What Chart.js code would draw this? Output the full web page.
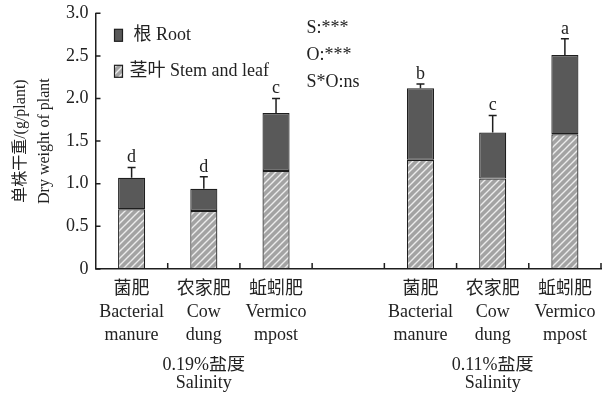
<!DOCTYPE html>
<html>
<head>
<meta charset="utf-8">
<script src="https://cdn.jsdelivr.net/npm/chart.js@4.4.1/dist/chart.umd.min.js"></script>
<style>
  html, body { margin: 0; padding: 0; background: #fff; }
  #wrap { width: 611px; height: 400px; }
</style>
</head>
<body>
<div id="wrap"><canvas id="chart" width="611" height="400"></canvas></div>
<script>
// categories (index 3 is the gap between the two salinity groups)
const categories = [
  ['菌肥', 'Bacterial', 'manure'],
  ['农家肥', 'Cow', 'dung'],
  ['蚯蚓肥', 'Vermico', 'mpost'],
  '',
  ['菌肥', 'Bacterial', 'manure'],
  ['农家肥', 'Cow', 'dung'],
  ['蚯蚓肥', 'Vermico', 'mpost']
];
const groupLabels = ['', ['0.19%盐度', 'Salinity'], '', '', '', ['0.11%盐度', 'Salinity'], ''];

// dry weight, g/plant
const stemLeaf = [0.70, 0.68, 1.15, null, 1.28, 1.06, 1.58];
const totals = [1.07, 0.94, 1.83, null, 2.12, 1.60, 2.51];
const errorTops = [1.19, 1.08, 2.00, null, 2.17, 1.80, 2.70];
const letters = ['d', 'd', 'c', '', 'b', 'c', 'a'];
const root = totals.map((t, i) => t == null ? null : +(t - stemLeaf[i]).toFixed(2));

const yTicks = [0, 0.5, 1.0, 1.5, 2.0, 2.5, 3.0];
const statLines = ['S:***', 'O:***', 'S*O:ns'];

const FONT = '"Liberation Serif", "Noto Sans CJK SC", serif';
const ROOT_COLOR = '#595959';
const EDGE = '#1e1e1e';

function hatch() {
  const c = document.createElement('canvas');
  c.width = 7; c.height = 7;
  const g = c.getContext('2d');
  g.fillStyle = '#a3a3a3';
  g.fillRect(0, 0, 7, 7);
  g.strokeStyle = '#ececec';
  g.lineWidth = 1.4;
  g.beginPath();
  g.moveTo(-1, 8); g.lineTo(8, -1);
  g.moveTo(-1, 1); g.lineTo(1, -1);
  g.moveTo(6, 8); g.lineTo(8, 6);
  g.stroke();
  return g.createPattern(c, 'repeat');
}
const stemFill = hatch();

const extras = {
  id: 'extras',
  afterDraw(chart) {
    const { ctx, chartArea: a, scales: { x, y } } = chart;
    ctx.save();
    ctx.strokeStyle = EDGE;
    ctx.lineWidth = 1.5;
    // inward ticks
    ctx.beginPath();
    yTicks.forEach(v => {
      const py = y.getPixelForValue(v);
      ctx.moveTo(a.left, py); ctx.lineTo(a.left + 5, py);
    });
    for (let i = 0; i < categories.length; i++) {
      const px = (x.getPixelForValue(i) + x.getPixelForValue(i + 1)) / 2;
      ctx.moveTo(px, a.bottom); ctx.lineTo(px, a.bottom - 6);
    }
    ctx.stroke();

    // error bars + letters
    ctx.fillStyle = '#222';
    ctx.font = '18px ' + FONT;
    ctx.textAlign = 'center';
    ctx.textBaseline = 'bottom';
    totals.forEach((t, i) => {
      if (t == null) return;
      const px = x.getPixelForValue(i);
      const top = y.getPixelForValue(errorTops[i]);
      ctx.beginPath();
      ctx.moveTo(px, y.getPixelForValue(t)); ctx.lineTo(px, top);
      ctx.moveTo(px - 4, top); ctx.lineTo(px + 4, top);
      ctx.stroke();
      ctx.fillText(letters[i], px, top - 1);
    });

    // legend
    const lx = a.left + 19;
    ctx.lineWidth = 1.2;
    ctx.fillStyle = ROOT_COLOR;
    ctx.fillRect(lx, a.top + 16, 8, 12);
    ctx.strokeRect(lx, a.top + 16, 8, 12);
    ctx.fillStyle = stemFill;
    ctx.fillRect(lx, a.top + 52, 8, 12);
    ctx.strokeRect(lx, a.top + 52, 8, 12);
    ctx.fillStyle = '#222';
    ctx.textAlign = 'left';
    ctx.textBaseline = 'middle';
    ctx.font = '18px ' + FONT;
    ctx.fillText('根 Root', lx + 19, a.top + 22);
    ctx.fillText('茎叶 Stem and leaf', lx + 15, a.top + 58);

    // significance
    statLines.forEach((s, k) => ctx.fillText(s, a.left + 211, a.top + 15 + k * 27));
    ctx.restore();
  }
};

new Chart(document.getElementById('chart'), {
  type: 'bar',
  data: {
    labels: categories,
    datasets: [
      { label: '茎叶 Stem and leaf', data: stemLeaf, backgroundColor: stemFill, borderColor: EDGE, borderWidth: 1.2, borderSkipped: false },
      { label: '根 Root', data: root, backgroundColor: ROOT_COLOR, borderColor: EDGE, borderWidth: 1.2, borderSkipped: false }
    ]
  },
  options: {
    responsive: false,
    animation: false,
    layout: { padding: { top: 0, right: 10, left: 9, bottom: 8 } },
    datasets: { bar: { categoryPercentage: 1, barPercentage: 0.375 } },
    plugins: { legend: { display: false }, tooltip: { enabled: false } },
    scales: {
      x: {
        stacked: true,
        grid: { display: false, drawTicks: false },
        border: { display: true, color: EDGE, width: 1.5 },
        ticks: { color: '#222', font: { family: FONT, size: 18, lineHeight: 1.28 }, padding: 9, maxRotation: 0, autoSkip: false }
      },
      x2: {
        type: 'category',
        labels: groupLabels,
        position: 'bottom',
        grid: { display: false, drawTicks: false },
        border: { display: false },
        ticks: { color: '#222', font: { family: FONT, size: 18, lineHeight: 1.0 }, padding: 0, maxRotation: 0, autoSkip: false }
      },
      y: {
        stacked: true,
        min: 0,
        max: 3,
        grid: { display: false, drawTicks: false },
        border: { display: true, color: EDGE, width: 1.5 },
        afterBuildTicks: s => { s.ticks = yTicks.map(v => ({ value: v })); },
        ticks: {
          color: '#222',
          padding: 7,
          font: { family: FONT, size: 18, lineHeight: 0.7 },
          callback: v => v === 0 ? '0' : v.toFixed(1)
        },
        title: {
          display: true,
          text: ['单株干重/(g/plant)', 'Dry weight of plant'],
          color: '#222',
          font: { family: FONT, size: 16, lineHeight: 1.5 },
          padding: { top: 0, bottom: 2 }
        }
      }
    }
  },
  plugins: [extras]
});
</script>
</body>
</html>
